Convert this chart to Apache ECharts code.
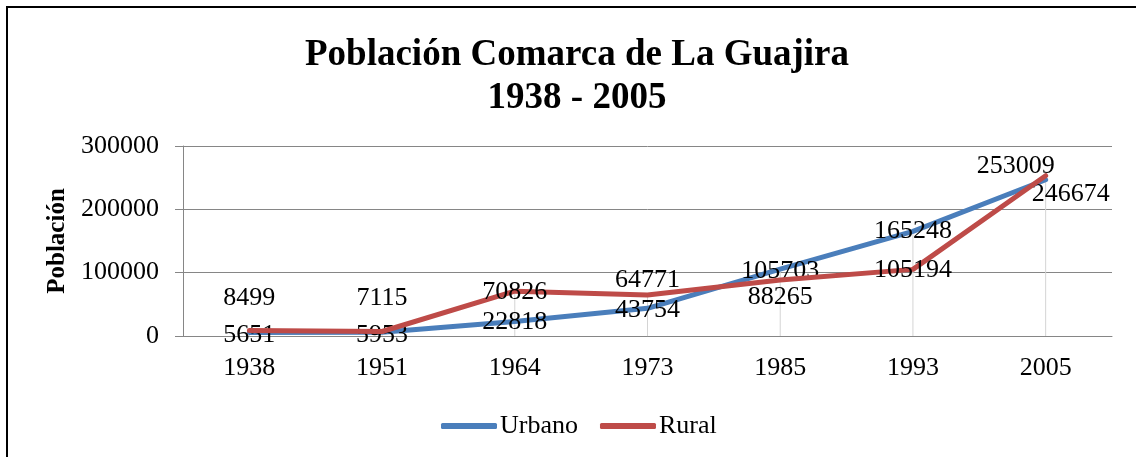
<!DOCTYPE html>
<html>
<head>
<meta charset="utf-8">
<script src="https://cdn.jsdelivr.net/npm/echarts@6/dist/echarts.min.js"></script>
<style>
html,body{margin:0;padding:0;background:#fff;}
#c{width:1136px;height:457px;}
</style>
</head>
<body>
<div id="c"></div>
<script>
var categories = ['1938','1951','1964','1973','1985','1993','2005'];
var urbano = [5651, 5953, 22818, 43754, 105703, 165248, 246674];
var rural = [8499, 7115, 70826, 64771, 88265, 105194, 253009];
var yTicks = [0, 100000, 200000, 300000];

var urbanoLabelOffsets = [[0,3],[0,3],[0,1],[0,2],[0,2],[0,0],[25,14]];
var ruralLabelOffsets = [[0,-32],[0,-33],[0,1],[0,-15],[0,17],[0,1],[-30,-10]];

var FONT = "'Liberation Serif','Times New Roman',serif";

function withLabels(values, offsets) {
  return values.map(function (v, i) {
    return { value: v, label: { offset: offsets[i] } };
  });
}
var dropValues = categories.map(function (c, i) { return Math.max(urbano[i], rural[i]); });

var chart = echarts.init(document.getElementById('c'), null, {renderer: 'canvas'});
chart.setOption({
  animation: false,
  backgroundColor: '#fff',
  graphic: [{
    type: 'rect', z: 100, silent: true,
    shape: { x: 7, y: 7, width: 1300, height: 600 },
    style: { fill: 'none', stroke: '#000', lineWidth: 2 }
  }],
  title: {
    text: 'Población Comarca de La Guajira\n1938 - 2005',
    left: 572, top: 29, textAlign: 'center',
    textStyle: { fontFamily: FONT, fontSize: 37, fontWeight: 'bold', color: '#000', lineHeight: 43 }
  },
  legend: {
    data: ['Urbano', 'Rural'],
    left: 436, top: 408,
    itemWidth: 56, itemHeight: 6, itemGap: 22,
    icon: 'roundRect',
    textStyle: { fontFamily: FONT, fontSize: 26, color: '#000', padding: [0, 0, 0, -2] }
  },
  grid: { left: 183, right: 24, top: 146, bottom: 121, containLabel: false },
  xAxis: {
    type: 'category', data: categories, boundaryGap: true,
    axisLine: { lineStyle: { color: '#868686', width: 1 } },
    axisTick: { show: false },
    axisLabel: { fontFamily: FONT, fontSize: 26, color: '#000', margin: 19 },
    splitLine: { show: false }
  },
  yAxis: {
    type: 'value', min: 0, max: 300000, interval: 100000,
    name: 'Población', nameLocation: 'middle', nameGap: 113,
    nameTextStyle: { fontFamily: FONT, fontSize: 25, fontWeight: 'bold', color: '#000' },
    axisLine: { show: true, lineStyle: { color: '#868686', width: 1 } },
    axisTick: { show: true, length: 8, lineStyle: { color: '#868686' } },
    axisLabel: {
      fontFamily: FONT, fontSize: 26, color: '#000', margin: 24,
      formatter: function (v) { return yTicks.indexOf(v) >= 0 ? String(v) : ''; }
    },
    splitLine: { lineStyle: { color: '#868686', width: 1 } }
  },
  series: [
    {
      name: 'drop', type: 'bar', data: dropValues, barWidth: 1,
      itemStyle: { color: '#d4d4d4' }, silent: true, z: 1
    },
    {
      name: 'Urbano', type: 'line', data: withLabels(urbano, urbanoLabelOffsets),
      symbol: 'circle', symbolSize: 1, showSymbol: true,
      lineStyle: { color: '#4A7EBB', width: 5, cap: 'round', join: 'round' },
      itemStyle: { color: '#4A7EBB' },
      label: { show: true, position: 'inside', fontFamily: FONT, fontSize: 26, color: '#000' },
      z: 3
    },
    {
      name: 'Rural', type: 'line', data: withLabels(rural, ruralLabelOffsets),
      symbol: 'circle', symbolSize: 1, showSymbol: true,
      lineStyle: { color: '#BE4B48', width: 5, cap: 'round', join: 'round' },
      itemStyle: { color: '#BE4B48' },
      label: { show: true, position: 'inside', fontFamily: FONT, fontSize: 26, color: '#000' },
      z: 4
    }
  ]
});
</script>
</body>
</html>
